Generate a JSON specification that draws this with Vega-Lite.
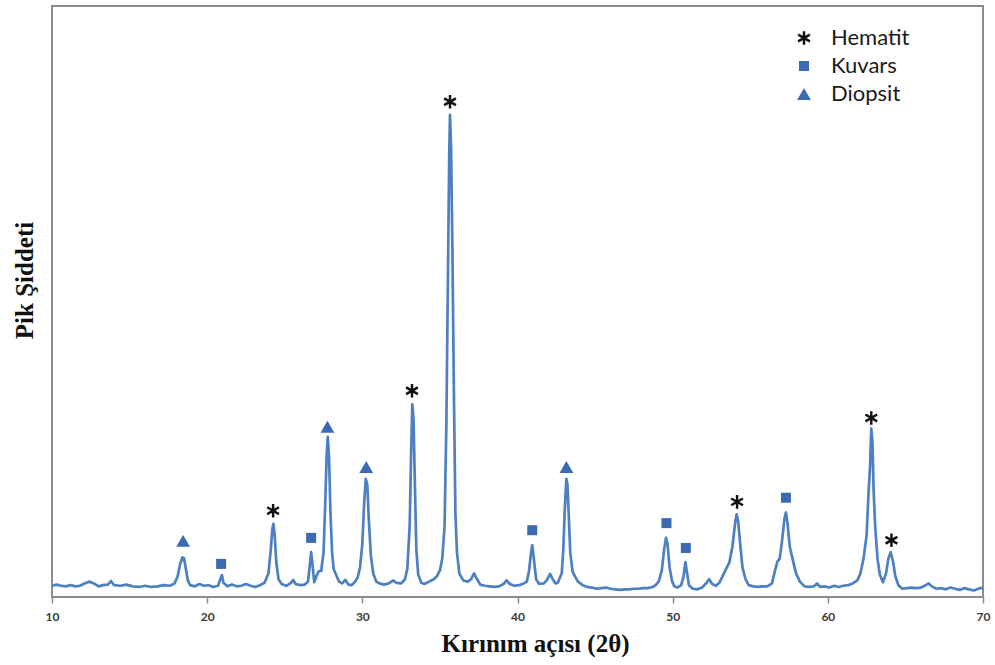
{
  "$schema": "https://vega.github.io/schema/vega-lite/v6.json",
  "width": 931,
  "height": 591,
  "autosize": {"type": "none"},
  "padding": {"left": 52, "top": 6, "right": 12, "bottom": 68},
  "background": "white",
  "config": {"view": {"stroke": "#8c8c8c", "strokeWidth": 2}},
  "datasets": {
    "xrd": [
      {"angle": 10.0, "intensity": 1.9}, {"angle": 10.3, "intensity": 2.1}, {"angle": 10.6, "intensity": 1.9}, {"angle": 10.9, "intensity": 1.8},
      {"angle": 11.2, "intensity": 2.0}, {"angle": 11.5, "intensity": 1.8}, {"angle": 11.8, "intensity": 1.9}, {"angle": 12.1, "intensity": 2.3},
      {"angle": 12.4, "intensity": 2.6}, {"angle": 12.7, "intensity": 2.3}, {"angle": 13.0, "intensity": 1.8}, {"angle": 13.3, "intensity": 2.0},
      {"angle": 13.6, "intensity": 2.1}, {"angle": 13.8, "intensity": 2.7}, {"angle": 14.0, "intensity": 2.0}, {"angle": 14.4, "intensity": 1.9},
      {"angle": 14.8, "intensity": 2.1}, {"angle": 15.2, "intensity": 1.8}, {"angle": 15.6, "intensity": 1.7}, {"angle": 16.0, "intensity": 1.9},
      {"angle": 16.4, "intensity": 1.7}, {"angle": 16.8, "intensity": 1.8}, {"angle": 17.2, "intensity": 2.0}, {"angle": 17.6, "intensity": 1.9},
      {"angle": 17.9, "intensity": 2.3}, {"angle": 18.1, "intensity": 3.5}, {"angle": 18.25, "intensity": 5.5}, {"angle": 18.4, "intensity": 6.7},
      {"angle": 18.5, "intensity": 6.6}, {"angle": 18.6, "intensity": 5.2}, {"angle": 18.75, "intensity": 2.8}, {"angle": 18.9, "intensity": 2.0},
      {"angle": 19.2, "intensity": 1.8}, {"angle": 19.5, "intensity": 2.2}, {"angle": 19.8, "intensity": 1.9}, {"angle": 20.1, "intensity": 2.0},
      {"angle": 20.4, "intensity": 1.7}, {"angle": 20.7, "intensity": 1.9}, {"angle": 20.85, "intensity": 3.0}, {"angle": 20.95, "intensity": 3.7},
      {"angle": 21.05, "intensity": 2.4}, {"angle": 21.3, "intensity": 1.8}, {"angle": 21.6, "intensity": 2.1}, {"angle": 21.9, "intensity": 1.8},
      {"angle": 22.2, "intensity": 1.9}, {"angle": 22.5, "intensity": 2.2}, {"angle": 22.8, "intensity": 1.9}, {"angle": 23.1, "intensity": 1.7},
      {"angle": 23.4, "intensity": 2.0}, {"angle": 23.7, "intensity": 2.4}, {"angle": 23.95, "intensity": 4.0}, {"angle": 24.1, "intensity": 8.0},
      {"angle": 24.2, "intensity": 11.5}, {"angle": 24.27, "intensity": 12.4}, {"angle": 24.35, "intensity": 10.5}, {"angle": 24.45, "intensity": 6.0},
      {"angle": 24.6, "intensity": 3.0}, {"angle": 24.8, "intensity": 2.2}, {"angle": 25.1, "intensity": 1.9}, {"angle": 25.4, "intensity": 2.4},
      {"angle": 25.55, "intensity": 2.9}, {"angle": 25.7, "intensity": 2.2}, {"angle": 26.0, "intensity": 2.0}, {"angle": 26.3, "intensity": 2.1},
      {"angle": 26.5, "intensity": 2.6}, {"angle": 26.6, "intensity": 5.0}, {"angle": 26.7, "intensity": 7.6}, {"angle": 26.8, "intensity": 5.2},
      {"angle": 26.9, "intensity": 2.5}, {"angle": 27.05, "intensity": 3.6}, {"angle": 27.2, "intensity": 4.4}, {"angle": 27.35, "intensity": 4.4},
      {"angle": 27.5, "intensity": 7.5}, {"angle": 27.6, "intensity": 15.0}, {"angle": 27.7, "intensity": 24.0}, {"angle": 27.77, "intensity": 27.1},
      {"angle": 27.85, "intensity": 24.0}, {"angle": 27.95, "intensity": 14.0}, {"angle": 28.05, "intensity": 7.5}, {"angle": 28.15, "intensity": 4.8},
      {"angle": 28.3, "intensity": 3.8}, {"angle": 28.5, "intensity": 2.6}, {"angle": 28.7, "intensity": 2.3}, {"angle": 28.9, "intensity": 2.9},
      {"angle": 29.1, "intensity": 2.1}, {"angle": 29.3, "intensity": 2.0}, {"angle": 29.5, "intensity": 2.5}, {"angle": 29.7, "intensity": 3.3},
      {"angle": 29.85, "intensity": 5.0}, {"angle": 30.0, "intensity": 9.0}, {"angle": 30.12, "intensity": 16.0}, {"angle": 30.22, "intensity": 20.0},
      {"angle": 30.32, "intensity": 19.0}, {"angle": 30.42, "intensity": 13.0}, {"angle": 30.55, "intensity": 7.0}, {"angle": 30.7, "intensity": 4.0},
      {"angle": 30.9, "intensity": 2.6}, {"angle": 31.1, "intensity": 2.3}, {"angle": 31.4, "intensity": 2.1}, {"angle": 31.7, "intensity": 2.3},
      {"angle": 32.0, "intensity": 2.8}, {"angle": 32.2, "intensity": 2.4}, {"angle": 32.5, "intensity": 2.3}, {"angle": 32.75, "intensity": 3.0},
      {"angle": 32.9, "intensity": 4.8}, {"angle": 33.05, "intensity": 12.0}, {"angle": 33.15, "intensity": 25.0}, {"angle": 33.22, "intensity": 32.6},
      {"angle": 33.3, "intensity": 30.0}, {"angle": 33.38, "intensity": 20.0}, {"angle": 33.48, "intensity": 8.0}, {"angle": 33.6, "intensity": 3.8},
      {"angle": 33.8, "intensity": 2.4}, {"angle": 34.0, "intensity": 2.2}, {"angle": 34.3, "intensity": 2.6}, {"angle": 34.6, "intensity": 3.0},
      {"angle": 34.8, "intensity": 3.5}, {"angle": 35.0, "intensity": 4.5}, {"angle": 35.15, "intensity": 6.5}, {"angle": 35.3, "intensity": 12.0},
      {"angle": 35.42, "intensity": 30.0}, {"angle": 35.52, "intensity": 55.0}, {"angle": 35.6, "intensity": 75.0}, {"angle": 35.65, "intensity": 81.6},
      {"angle": 35.72, "intensity": 76.0}, {"angle": 35.8, "intensity": 60.0}, {"angle": 35.9, "intensity": 35.0}, {"angle": 36.0, "intensity": 14.0},
      {"angle": 36.1, "intensity": 7.5}, {"angle": 36.25, "intensity": 4.0}, {"angle": 36.5, "intensity": 2.8}, {"angle": 36.8, "intensity": 2.6},
      {"angle": 37.0, "intensity": 3.0}, {"angle": 37.2, "intensity": 4.0}, {"angle": 37.4, "intensity": 3.0}, {"angle": 37.6, "intensity": 2.1},
      {"angle": 37.9, "intensity": 1.9}, {"angle": 38.2, "intensity": 1.8}, {"angle": 38.5, "intensity": 1.7}, {"angle": 38.8, "intensity": 1.8},
      {"angle": 39.1, "intensity": 2.2}, {"angle": 39.3, "intensity": 2.8}, {"angle": 39.5, "intensity": 2.2}, {"angle": 39.8, "intensity": 1.9},
      {"angle": 40.1, "intensity": 2.0}, {"angle": 40.4, "intensity": 2.3}, {"angle": 40.6, "intensity": 2.6}, {"angle": 40.75, "intensity": 4.5},
      {"angle": 40.85, "intensity": 7.0}, {"angle": 40.95, "intensity": 8.8}, {"angle": 41.05, "intensity": 6.5}, {"angle": 41.2, "intensity": 3.0},
      {"angle": 41.4, "intensity": 2.2}, {"angle": 41.7, "intensity": 2.3}, {"angle": 41.9, "intensity": 2.9}, {"angle": 42.1, "intensity": 3.9},
      {"angle": 42.25, "intensity": 3.1}, {"angle": 42.45, "intensity": 2.3}, {"angle": 42.6, "intensity": 2.4}, {"angle": 42.85, "intensity": 4.0},
      {"angle": 42.95, "intensity": 8.0}, {"angle": 43.05, "intensity": 15.0}, {"angle": 43.15, "intensity": 20.0}, {"angle": 43.22, "intensity": 19.0},
      {"angle": 43.3, "intensity": 14.0}, {"angle": 43.4, "intensity": 7.5}, {"angle": 43.55, "intensity": 4.3}, {"angle": 43.7, "intensity": 3.5},
      {"angle": 43.9, "intensity": 2.6}, {"angle": 44.2, "intensity": 2.0}, {"angle": 44.5, "intensity": 1.7}, {"angle": 44.8, "intensity": 1.6},
      {"angle": 45.1, "intensity": 1.4}, {"angle": 45.4, "intensity": 1.5}, {"angle": 45.7, "intensity": 1.6}, {"angle": 46.0, "intensity": 1.4},
      {"angle": 46.3, "intensity": 1.3}, {"angle": 46.6, "intensity": 1.2}, {"angle": 46.9, "intensity": 1.3}, {"angle": 47.2, "intensity": 1.3},
      {"angle": 47.5, "intensity": 1.4}, {"angle": 47.8, "intensity": 1.4}, {"angle": 48.1, "intensity": 1.5}, {"angle": 48.4, "intensity": 1.5},
      {"angle": 48.7, "intensity": 1.7}, {"angle": 48.9, "intensity": 2.0}, {"angle": 49.1, "intensity": 2.6}, {"angle": 49.3, "intensity": 4.5},
      {"angle": 49.45, "intensity": 8.0}, {"angle": 49.57, "intensity": 10.0}, {"angle": 49.67, "intensity": 9.0}, {"angle": 49.8, "intensity": 5.0},
      {"angle": 49.95, "intensity": 2.8}, {"angle": 50.1, "intensity": 1.8}, {"angle": 50.3, "intensity": 1.6}, {"angle": 50.55, "intensity": 2.0},
      {"angle": 50.7, "intensity": 3.5}, {"angle": 50.82, "intensity": 5.9}, {"angle": 50.92, "intensity": 4.2}, {"angle": 51.05, "intensity": 2.0},
      {"angle": 51.3, "intensity": 1.4}, {"angle": 51.6, "intensity": 1.3}, {"angle": 51.9, "intensity": 1.6}, {"angle": 52.15, "intensity": 2.3},
      {"angle": 52.35, "intensity": 3.0}, {"angle": 52.55, "intensity": 2.2}, {"angle": 52.8, "intensity": 1.9}, {"angle": 53.0, "intensity": 2.4},
      {"angle": 53.2, "intensity": 3.4}, {"angle": 53.45, "intensity": 4.8}, {"angle": 53.65, "intensity": 5.8}, {"angle": 53.85, "intensity": 8.5},
      {"angle": 54.0, "intensity": 12.0}, {"angle": 54.12, "intensity": 14.0}, {"angle": 54.22, "intensity": 12.8}, {"angle": 54.35, "intensity": 9.0},
      {"angle": 54.5, "intensity": 5.0}, {"angle": 54.7, "intensity": 3.0}, {"angle": 54.9, "intensity": 2.0}, {"angle": 55.2, "intensity": 1.8},
      {"angle": 55.5, "intensity": 1.7}, {"angle": 55.8, "intensity": 1.8}, {"angle": 56.1, "intensity": 1.8}, {"angle": 56.4, "intensity": 2.3},
      {"angle": 56.6, "intensity": 4.5}, {"angle": 56.75, "intensity": 6.0}, {"angle": 56.9, "intensity": 6.5}, {"angle": 57.05, "intensity": 9.5},
      {"angle": 57.2, "intensity": 13.2}, {"angle": 57.3, "intensity": 14.3}, {"angle": 57.4, "intensity": 12.5}, {"angle": 57.55, "intensity": 8.5},
      {"angle": 57.75, "intensity": 6.2}, {"angle": 57.95, "intensity": 4.0}, {"angle": 58.2, "intensity": 2.6}, {"angle": 58.5, "intensity": 1.8},
      {"angle": 58.8, "intensity": 1.7}, {"angle": 59.1, "intensity": 1.8}, {"angle": 59.3, "intensity": 2.3}, {"angle": 59.5, "intensity": 1.7},
      {"angle": 59.8, "intensity": 1.8}, {"angle": 60.1, "intensity": 1.6}, {"angle": 60.4, "intensity": 1.9}, {"angle": 60.7, "intensity": 1.7},
      {"angle": 61.0, "intensity": 1.9}, {"angle": 61.3, "intensity": 2.0}, {"angle": 61.6, "intensity": 2.3}, {"angle": 61.9, "intensity": 2.8},
      {"angle": 62.1, "intensity": 4.0}, {"angle": 62.3, "intensity": 6.5}, {"angle": 62.5, "intensity": 10.5}, {"angle": 62.62, "intensity": 17.5},
      {"angle": 62.72, "intensity": 22.0}, {"angle": 62.8, "intensity": 28.5}, {"angle": 62.88, "intensity": 26.0}, {"angle": 62.95, "intensity": 18.0},
      {"angle": 63.05, "intensity": 12.0}, {"angle": 63.2, "intensity": 6.5}, {"angle": 63.35, "intensity": 3.8}, {"angle": 63.55, "intensity": 2.5},
      {"angle": 63.75, "intensity": 4.0}, {"angle": 63.9, "intensity": 6.5}, {"angle": 64.05, "intensity": 7.6}, {"angle": 64.2, "intensity": 6.0},
      {"angle": 64.35, "intensity": 3.5}, {"angle": 64.55, "intensity": 2.0}, {"angle": 64.8, "intensity": 1.4}, {"angle": 65.1, "intensity": 1.5},
      {"angle": 65.4, "intensity": 1.6}, {"angle": 65.7, "intensity": 1.5}, {"angle": 66.0, "intensity": 1.6}, {"angle": 66.3, "intensity": 2.0},
      {"angle": 66.5, "intensity": 2.3}, {"angle": 66.7, "intensity": 1.8}, {"angle": 67.0, "intensity": 1.4}, {"angle": 67.3, "intensity": 1.5},
      {"angle": 67.6, "intensity": 1.3}, {"angle": 67.9, "intensity": 1.6}, {"angle": 68.2, "intensity": 1.4}, {"angle": 68.5, "intensity": 1.2},
      {"angle": 68.8, "intensity": 1.5}, {"angle": 69.1, "intensity": 1.3}, {"angle": 69.4, "intensity": 1.1}, {"angle": 69.7, "intensity": 1.4},
      {"angle": 70.0, "intensity": 1.6}
    ],
    "peaks": [
      {"angle": 18.45, "height": 9.5, "phase": "Diopsit"},
      {"angle": 20.9, "height": 5.6, "phase": "Kuvars"},
      {"angle": 24.25, "height": 14.6, "phase": "Hematit"},
      {"angle": 26.7, "height": 10.0, "phase": "Kuvars"},
      {"angle": 27.75, "height": 28.8, "phase": "Diopsit"},
      {"angle": 30.25, "height": 22.0, "phase": "Diopsit"},
      {"angle": 33.2, "height": 34.9, "phase": "Hematit"},
      {"angle": 35.65, "height": 83.8, "phase": "Hematit"},
      {"angle": 40.95, "height": 11.3, "phase": "Kuvars"},
      {"angle": 43.15, "height": 22.0, "phase": "Diopsit"},
      {"angle": 49.6, "height": 12.5, "phase": "Kuvars"},
      {"angle": 50.85, "height": 8.3, "phase": "Kuvars"},
      {"angle": 54.15, "height": 16.1, "phase": "Hematit"},
      {"angle": 57.3, "height": 16.8, "phase": "Kuvars"},
      {"angle": 62.8, "height": 30.3, "phase": "Hematit"},
      {"angle": 64.1, "height": 9.6, "phase": "Hematit"}
    ]
  },
  "layer": [
    {
      "data": {"name": "xrd"},
      "mark": {"type": "line", "color": "#4d80c2", "strokeWidth": 2.7, "strokeJoin": "round", "clip": true},
      "encoding": {
        "x": {
          "field": "angle", "type": "quantitative",
          "scale": {"domain": [10, 70], "nice": false, "zero": false},
          "axis": {
            "values": [10, 20, 30, 40, 50, 60, 70], "grid": false, "domain": false,
            "ticks": true, "tickColor": "#8c8c8c", "tickSize": 6, "tickWidth": 1.5,
            "labelFont": "Lato", "labelFontSize": 12, "labelFontWeight": "bold", "labelColor": "#3a3a3a", "labelPadding": 8, "labelFlush": false,
            "title": "Kırınım açısı (2θ)", "titleFont": "Liberation Serif", "titleFontSize": 25, "titleFontWeight": "bold",
            "titleColor": "#111111", "titleX": 483, "titleY": 46, "titleBaseline": "middle", "titleAlign": "center"
          }
        },
        "y": {
          "field": "intensity", "type": "quantitative",
          "scale": {"domain": [0, 100], "nice": false, "zero": true},
          "axis": {
            "grid": false, "domain": false, "ticks": false, "labels": false,
            "title": "Pik Şiddeti", "titleFont": "Liberation Serif", "titleFontSize": 25, "titleFontWeight": "bold",
            "titleColor": "#111111", "titleX": -28, "titleY": 274, "titleAngle": 270,
            "titleAlign": "center", "titleBaseline": "middle"
          }
        }
      }
    },
    {
      "data": {"name": "peaks"},
      "mark": {"type": "point", "filled": true, "opacity": 1, "strokeWidth": 0},
      "encoding": {
        "x": {"field": "angle", "type": "quantitative"},
        "y": {"field": "height", "type": "quantitative"},
        "shape": {
          "field": "phase", "type": "nominal",
          "scale": {
            "domain": ["Hematit", "Kuvars", "Diopsit"],
            "range": ["M-0.18,-1L0.18,-1L0.18,1L-0.18,1ZM0.776,-0.656L0.956,-0.344L-0.776,0.656L-0.956,0.344ZM-0.956,-0.344L-0.776,-0.656L0.956,0.344L0.776,0.656Z", "square", "triangle-up"]
          },
          "legend": {
            "title": null, "orient": "none", "legendX": 741, "legendY": 21,
            "labelFont": "Lato", "labelFontSize": 22, "labelColor": "#1a1a1a",
            "symbolSize": 150, "rowPadding": 6, "labelOffset": 16, "symbolStrokeWidth": 0, "padding": 0
          }
        },
        "color": {
          "field": "phase", "type": "nominal",
          "scale": {"domain": ["Hematit", "Kuvars", "Diopsit"], "range": ["#111111", "#3b69b2", "#3b69b2"]},
          "legend": {
            "title": null, "orient": "none", "legendX": 741, "legendY": 21,
            "labelFont": "Lato", "labelFontSize": 22, "labelColor": "#1a1a1a",
            "symbolSize": 150, "rowPadding": 6, "labelOffset": 16, "symbolStrokeWidth": 0, "padding": 0
          }
        },
        "size": {
          "field": "phase", "type": "nominal",
          "scale": {"type": "ordinal", "domain": ["Hematit", "Kuvars", "Diopsit"], "range": [185, 100, 190]},
          "legend": null
        }
      }
    }
  ]
}
